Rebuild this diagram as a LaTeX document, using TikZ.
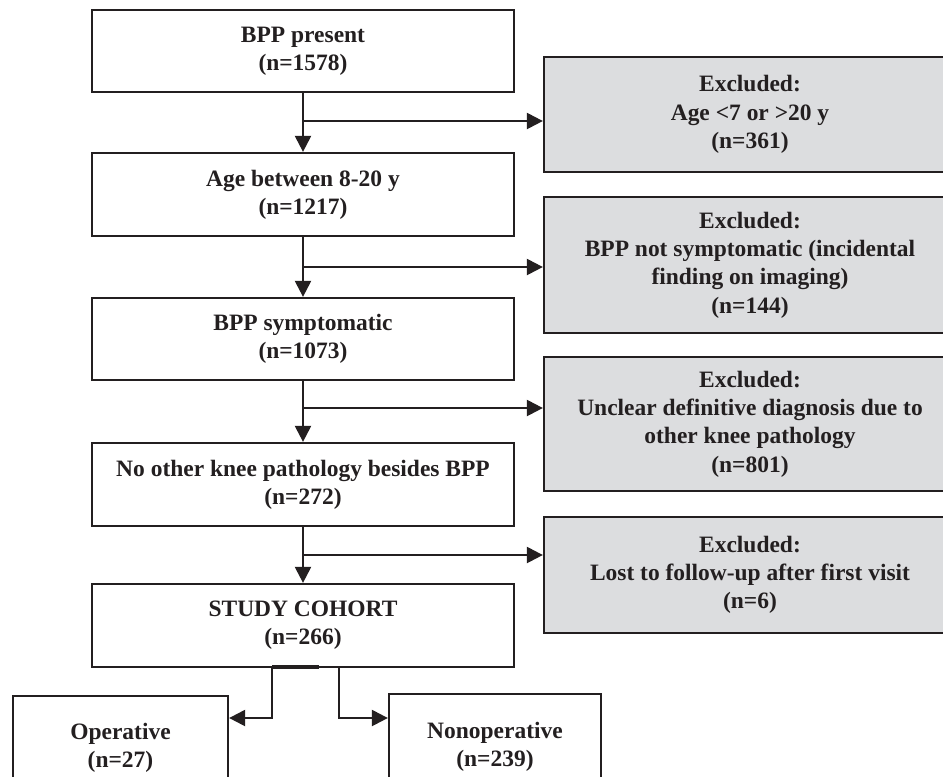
\documentclass[tikz,border=0pt]{standalone}
\usepackage{fontspec}
\setmainfont{Liberation Serif}
\usetikzlibrary{arrows.meta}
\definecolor{lineC}{HTML}{231F20}
\definecolor{grayC}{HTML}{DCDDDF}
\tikzset{
  every picture/.style={x=0.75pt,y=-0.75pt},
  whitebox/.style={draw=lineC, line width=1.7pt, fill=white, inner sep=0pt, align=center,
    font=\fontsize{17.6}{21.2}\selectfont\bfseries, text=lineC},
  graybox/.style={whitebox, fill=grayC},
  arr/.style={draw=lineC, line width=1.7pt, -{Triangle[length=12pt,width=12pt]}},
  ln/.style={draw=lineC, line width=1.7pt}
}
\begin{document}
\begin{tikzpicture}
\useasboundingbox (0,0) rectangle (943,776);
% main column
\node[whitebox, minimum width=422*0.75pt, minimum height=82*0.75pt] (b1) at (303,51) {BPP present\\(n=1578)};
\node[whitebox, minimum width=422*0.75pt, minimum height=83*0.75pt] (b2) at (303,194.5) {Age between 8-20 y\\(n=1217)};
\node[whitebox, minimum width=422*0.75pt, minimum height=82*0.75pt] (b3) at (303,339) {BPP symptomatic\\(n=1073)};
\node[whitebox, minimum width=422*0.75pt, minimum height=83*0.75pt] (b4) at (303,484.5) {No other knee pathology besides BPP\\(n=272)};
\node[whitebox, minimum width=422*0.75pt, minimum height=83*0.75pt] (b5) at (303,625.5) {STUDY COHORT\\(n=266)};
% excluded boxes
\node[graybox, minimum width=412*0.75pt, minimum height=115*0.75pt] (e1) at (750,114.5) {Excluded:\\Age <7 or >20 y\\(n=361)};
\node[graybox, minimum width=412*0.75pt, minimum height=136*0.75pt] (e2) at (750,265) {Excluded:\\BPP not symptomatic (incidental\\finding on imaging)\\(n=144)};
\node[graybox, minimum width=412*0.75pt, minimum height=134*0.75pt] (e3) at (750,424) {Excluded:\\Unclear definitive diagnosis due to\\other knee pathology\\(n=801)};
\node[graybox, minimum width=412*0.75pt, minimum height=116*0.75pt] (e4) at (750,575) {Excluded:\\Lost to follow-up after first visit\\(n=6)};
% bottom boxes
\node[whitebox, minimum width=215*0.75pt, minimum height=104*0.75pt] (op) at (120.5,748) {Operative\\(n=27)};
\node[whitebox, minimum width=212*0.75pt, minimum height=106*0.75pt] (np) at (495,747) {Nonoperative\\(n=239)};
% vertical arrows
\draw[arr] (b1) -- (b2);
\draw[arr] (b2) -- (b3);
\draw[arr] (b3) -- (b4);
\draw[arr] (b4) -- (b5);
% side arrows
\coordinate (j1) at (303,121);
\coordinate (j2) at (303,267);
\coordinate (j3) at (303,408);
\coordinate (j4) at (303,555);
\draw[arr] (j1) -- (j1 -| e1.west);
\draw[arr] (j2) -- (j2 -| e2.west);
\draw[arr] (j3) -- (j3 -| e3.west);
\draw[arr] (j4) -- (j4 -| e4.west);
% split
\coordinate (d1) at (272,667);
\coordinate (d2) at (339,667);
\coordinate (d3) at (319,667);
\coordinate (k1) at (272,718);
\coordinate (k2) at (339,718);
\draw[lineC, line width=2.6pt] (d1) -- (d3);
\draw[arr] (d1) -- (k1) -- (k1 -| op.east);
\draw[arr] (d2) -- (k2) -- (k2 -| np.west);
\end{tikzpicture}
\end{document}
